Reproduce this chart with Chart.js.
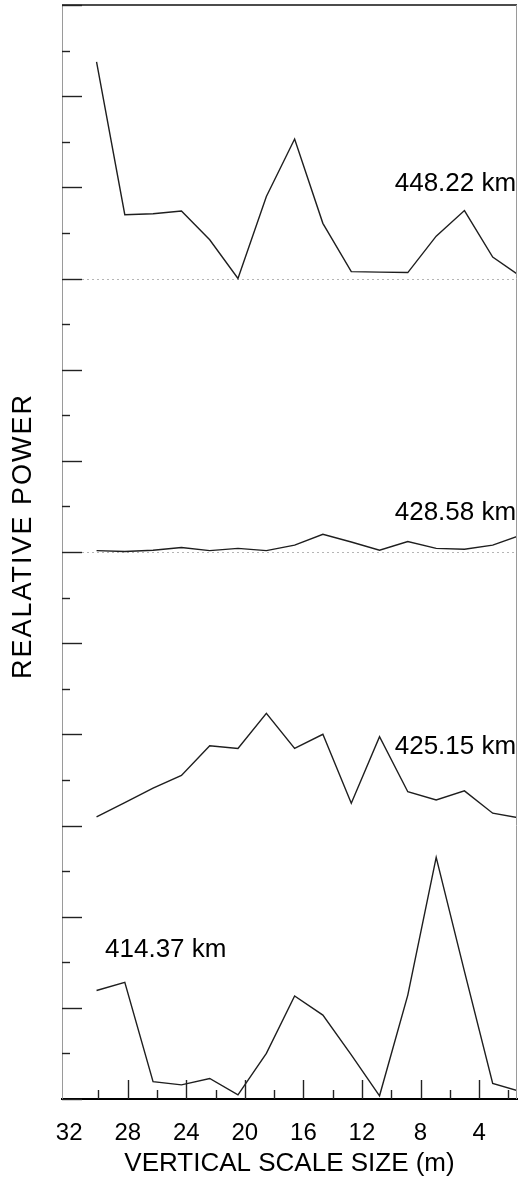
<!DOCTYPE html>
<html>
<head>
<meta charset="utf-8">
<script src="https://cdn.jsdelivr.net/npm/chart.js@4.4.1/dist/chart.umd.min.js"></script>
<style>
  html, body { margin: 0; padding: 0; background: #fff; }
  canvas { display: block; }
</style>
</head>
<body>
<canvas id="c" width="518" height="1178"></canvas>
<script>
// ---- data ----
const scaleSize = [30.13, 28.20, 26.27, 24.33, 22.40, 20.47, 18.53, 16.60, 14.67, 12.73, 10.80, 8.87, 6.93, 5.00, 3.07, 1.13];
const power448 = [4.75, 1.40, 1.42, 1.48, 0.85, 0.00, 1.80, 3.06, 1.21, 0.15, 0.14, 0.13, 0.93, 1.49, 0.47, 0.04];
const power428 = [0.03, 0.01, 0.04, 0.10, 0.03, 0.08, 0.03, 0.15, 0.39, 0.22, 0.04, 0.23, 0.08, 0.06, 0.15, 0.37];
const power425 = [0.19, 0.50, 0.82, 1.10, 1.75, 1.69, 2.46, 1.69, 2.00, 0.49, 1.95, 0.74, 0.56, 0.76, 0.27, 0.16];
const power414 = [2.38, 2.56, 0.38, 0.31, 0.45, 0.09, 1.00, 2.26, 1.84, 0.97, 0.07, 2.28, 5.30, 2.80, 0.34, 0.16];
const panelNames = ['448.22 km', '428.58 km', '425.15 km', '414.37 km'];
const xTickLabels = [32, 28, 24, 20, 16, 12, 8, 4];
const yTitle = 'REALATIVE POWER';

// ---- layout (not data) ----
const panelOffset = [18, 12, 6, 0];
const labelAnchor = [
  {x: 1.47, y: 20.07, align: 'right'},
  {x: 1.47, y: 12.86, align: 'right'},
  {x: 1.47, y: 7.72, align: 'right'},
  {x: 29.55, y: 3.27, align: 'left'}
];
const FONT = "'Liberation Sans', Arial, sans-serif";
Chart.defaults.font.family = FONT;

const series = [power448, power428, power425, power414];
const datasets = series.map((vals, p) => ({
  label: panelNames[p],
  data: scaleSize.map((x, i) => ({x: x, y: vals[i] + panelOffset[p]})),
  borderColor: '#1e1e1e',
  borderWidth: 1.4,
  pointRadius: 0,
  tension: 0,
  fill: false
}));

const decor = {
  id: 'decor',
  beforeDatasetsDraw(chart) {
    const {ctx, chartArea: a, scales: {x, y}} = chart;
    ctx.save();
    ctx.strokeStyle = '#b5b5b5';
    ctx.lineWidth = 1;
    ctx.setLineDash([2, 3]);
    [18, 12].forEach(v => {
      const py = Math.round(y.getPixelForValue(v)) + 0.5;
      ctx.beginPath(); ctx.moveTo(a.left, py); ctx.lineTo(a.right, py); ctx.stroke();
    });
    ctx.restore();
  },
  afterDraw(chart) {
    const {ctx, chartArea: a, scales: {x, y}} = chart;
    ctx.save();
    // frame top / right
    ctx.strokeStyle = '#111';
    ctx.lineWidth = 1.6;
    ctx.beginPath(); ctx.moveTo(a.left, a.top); ctx.lineTo(a.right, a.top); ctx.stroke();
    ctx.strokeStyle = '#9a9a9a';
    ctx.lineWidth = 1;
    ctx.beginPath(); ctx.moveTo(a.right - 0.5, a.top); ctx.lineTo(a.right - 0.5, a.bottom); ctx.stroke();
    // inward y ticks
    ctx.strokeStyle = '#222';
    ctx.lineWidth = 1.4;
    for (let v = y.min; v <= y.max; v += 1) {
      const py = Math.round(y.getPixelForValue(v)) + 0.5;
      const len = (v % 2 === 0) ? 20 : 8;
      ctx.beginPath(); ctx.moveTo(a.left, py); ctx.lineTo(a.left + len, py); ctx.stroke();
    }
    // inward x ticks
    for (let v = 2; v <= 30; v += 2) {
      const px = Math.round(x.getPixelForValue(v)) + 0.5;
      const len = (v % 4 === 0) ? 19 : 9;
      ctx.beginPath(); ctx.moveTo(px, a.bottom); ctx.lineTo(px, a.bottom - len); ctx.stroke();
    }
    // panel labels
    ctx.fillStyle = '#000';
    ctx.font = '26px ' + FONT;
    ctx.textBaseline = 'middle';
    panelNames.forEach((t, i) => {
      const an = labelAnchor[i];
      ctx.textAlign = an.align;
      ctx.fillText(t, x.getPixelForValue(an.x), y.getPixelForValue(an.y));
    });
    // y axis title
    ctx.save();
    ctx.translate(24, (a.top + a.bottom) / 2 - 16);
    ctx.rotate(-Math.PI / 2);
    ctx.font = '27px ' + FONT;
    try { ctx.letterSpacing = '2px'; } catch (e) {}
    ctx.textAlign = 'center';
    ctx.textBaseline = 'middle';
    ctx.fillText(yTitle, 0, 0);
    ctx.restore();
    ctx.restore();
  }
};

new Chart(document.getElementById('c'), {
  type: 'line',
  data: {datasets},
  options: {
    responsive: false,
    devicePixelRatio: 1,
    animation: false,
    layout: {padding: {top: 5, right: 1, bottom: 0, left: 62}},
    plugins: {legend: {display: false}, tooltip: {enabled: false}},
    scales: {
      x: {
        type: 'linear',
        reverse: true,
        min: 1.41,
        max: 32.49,
        grid: {display: false, drawTicks: false},
        border: {display: true, color: '#000', width: 2},
        afterBuildTicks: (s) => { s.ticks = xTickLabels.map(v => ({value: v})); },
        ticks: {
          color: '#000',
          padding: 22,
          maxRotation: 0,
          autoSkip: false,
          font: {size: 24, lineHeight: 1}
        },
        title: {
          display: true,
          text: 'VERTICAL SCALE SIZE (m)',
          color: '#000',
          font: {size: 26, lineHeight: 1},
          padding: {top: -16, bottom: 1}
        }
      },
      y: {
        type: 'linear',
        min: 0,
        max: 24,
        grid: {display: false, drawTicks: false},
        border: {display: true, color: '#9a9a9a', width: 1, dash: [1, 2]},
        ticks: {display: false, stepSize: 1}
      }
    }
  },
  plugins: [decor]
});
</script>
</body>
</html>
